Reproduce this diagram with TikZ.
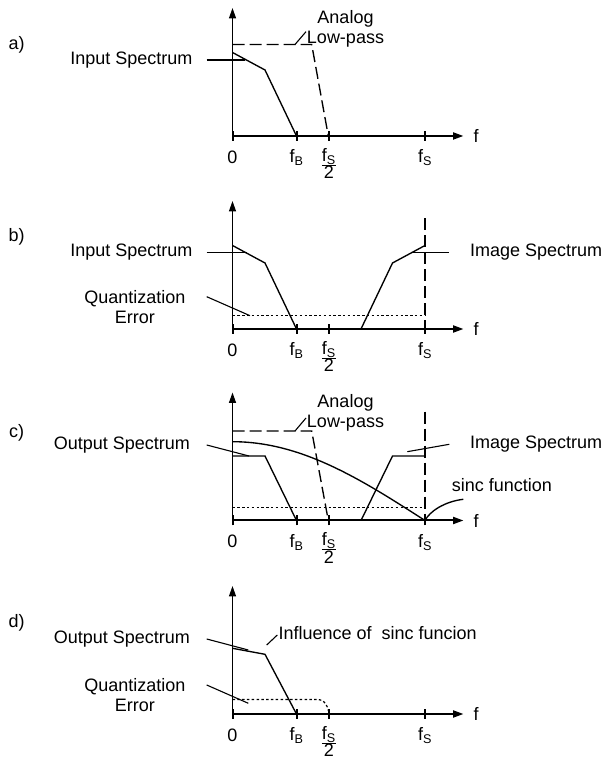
\documentclass[tikz,border=0pt]{standalone}
\usepackage{amsmath}
\usepackage{fontspec}
\setmainfont{Liberation Sans}
\usetikzlibrary{positioning, arrows.meta}

\begin{document}
\begin{tikzpicture}[x=1pt, y=1pt,
    lbl/.style={font=\fontsize{18}{20}\selectfont, inner sep=0pt},
    axisline/.style={line width=1.4pt, -{Triangle[length=10.5pt, width=7pt]}},
    tickmark/.style={line width=2pt},
    spectrum/.style={line width=1.35pt},
    lowpass/.style={line width=1.35pt, dash pattern=on 12pt off 5pt},
    noise/.style={line width=1.2pt, dash pattern=on 2.5pt off 2.3pt},
    leader/.style={line width=1.1pt}]

    \useasboundingbox (0,0) rectangle (602,759);

    % --- AXES, TICKS AND TICK LABELS OF ALL FOUR PANELS ---
    \foreach \p/\oy in {a/623, b/430, c/238.5, d/45} {
        \begin{scope}[shift={(232.5,\oy)}]
            \draw[axisline] (0,0) -- (0,128);
            \draw[axisline, line width=2pt] (0,0) -- (231,0);
            \foreach \tx in {0, 64, 96.25, 192.5}
                \draw[tickmark] (\tx,-5) -- (\tx,5);
            \node[lbl] (f\p) at (243.5,0) {f};
            \node[lbl, anchor=base] (zero\p) at (0,-27.5) {0};
            \node[lbl, anchor=base] (fb\p) at (64,-27) {$\text{f}_{\text{B}}$};
            \node[lbl, anchor=base] (fhalf\p) at (96.25,-33.5)
                {$\frac{\textstyle\text{f}_{\text{S}}}{\textstyle\text{2}}$};
            \node[lbl, anchor=base] (fs\p) at (192.5,-27) {$\text{f}_{\text{S}}$};
        \end{scope}
    }

    % --- PANEL A: INPUT SPECTRUM AND ANALOG LOW-PASS ---
    \begin{scope}[shift={(232.5,623)}]
        \node[lbl] (tagA) at (-215.8,91) {a)};
        \draw[spectrum] (0,83.5) -- (32.5,66) -- (64,0);
        \draw[lowpass] (0,91.5) -- (79.2,91.5) -- (95.8,0);
        % labels with their leaders
        \coordinate (inAs) at (-25.8,76);
        \coordinate (inAe) at (12,76);
        \node[lbl, left=14pt of inAs] (inA) {Input Spectrum};
        \draw[leader] (inAs) -- (inAe);
        \coordinate (lpAs) at (62.5,91.5);
        \coordinate (lpAe) at (73.5,104.3);
        \node[lbl, align=center] (lpA) at (113,107.5) {Analog\\Low-pass};
        \draw[leader] (lpAs) -- (lpAe);
    \end{scope}

    % --- PANEL B: SAMPLED INPUT WITH IMAGE AND QUANTIZATION ERROR ---
    \begin{scope}[shift={(232.5,430)}]
        \node[lbl] (tagB) at (-215.8,92.3) {b)};
        \draw[spectrum] (0,83.5) -- (32.5,66) -- (64,0);
        \draw[spectrum] (128.5,0) -- (160,66) -- (192.5,83.5);
        \draw[lowpass] (192.5,110.7) -- (192.5,0);
        \draw[noise] (0,13.3) -- (192.5,13.3);
        % labels with their leaders
        \coordinate (inBs) at (-25.8,76.5);
        \coordinate (inBe) at (14,76.5);
        \node[lbl, left=14pt of inBs] (inB) {Input Spectrum};
        \draw[leader] (inBs) -- (inBe);
        \coordinate (imBs) at (179.2,76.5);
        \coordinate (imBe) at (216.8,76.5);
        \node[lbl, right=20.5pt of imBe] (imB) {Image Spectrum};
        \draw[leader] (imBs) -- (imBe);
        \coordinate (qeBs) at (-25.8,32.3);
        \coordinate (qeBe) at (17.5,13.3);
        \node[lbl, align=center, left=21pt of qeBs, yshift=-10pt] (qeB) {Quantization\\Error};
        \draw[leader] (qeBs) -- (qeBe);
    \end{scope}

    % --- PANEL C: OUTPUT SPECTRUM, SINC WEIGHTING, LOW-PASS ---
    \begin{scope}[shift={(232.5,238.5)}]
        \node[lbl] (tagC) at (-215.8,87.5) {c)};
        \draw[lowpass] (0,89.5) -- (79.2,89.5) -- (95.8,0);
        \draw[spectrum] (0,64.5) -- (32.5,64.5) -- (64,0);
        \draw[spectrum] (128.5,0) -- (160,64.5) -- (192.5,64.5);
        \draw[spectrum] plot[domain=0:192.5, samples=60] (\x,{78.8*cos(\x/192.5*90)});
        \draw[spectrum] (192.5,0) .. controls (197,9) and (212,19) .. (230.8,21.2);
        \draw[lowpass] (192.5,108.8) -- (192.5,0);
        \draw[noise] (0,13.2) -- (192.5,13.2);
        % labels with their leaders
        \coordinate (lpCs) at (62.5,89.5);
        \coordinate (lpCe) at (73.5,102.5);
        \node[lbl, align=center] (lpC) at (113,108) {Analog\\Low-pass};
        \draw[leader] (lpCs) -- (lpCe);
        \coordinate (outCs) at (-25.8,75.5);
        \coordinate (outCe) at (16.5,64.5);
        \node[lbl, left=16.5pt of outCs] (outC) {Output Spectrum};
        \draw[leader] (outCs) -- (outCe);
        \coordinate (imCs) at (174.8,68.8);
        \coordinate (imCe) at (216.8,76.2);
        \node[lbl, right=20.5pt of imCe] (imC) {Image Spectrum};
        \draw[leader] (imCs) -- (imCe);
        \node[lbl, anchor=west] (sincC) at (219.2,35.5) {sinc function};
    \end{scope}

    % --- PANEL D: FILTERED OUTPUT ---
    \begin{scope}[shift={(232.5,45)}]
        \node[lbl] (tagD) at (-215.8,90.7) {d)};
        \draw[spectrum] (0,65.7) -- (32.5,59.7) -- (64,0);
        \draw[noise] (0,14.5) -- (86,14.5) .. controls (92,14.5) and (95,8) .. (96,3);
        % labels with their leaders
        \coordinate (outDs) at (-25.8,75);
        \coordinate (outDe) at (15.8,64);
        \node[lbl, left=16.5pt of outDs] (outD) {Output Spectrum};
        \draw[leader] (outDs) -- (outDe);
        \coordinate (infDs) at (34.2,69);
        \coordinate (infDe) at (44.8,79);
        \node[lbl, right=1pt of infDe, yshift=2pt] (infD) {Influence of\ \ sinc funcion};
        \draw[leader] (infDs) -- (infDe);
        \coordinate (qeDs) at (-25.8,29);
        \coordinate (qeDe) at (15.8,10.7);
        \node[lbl, align=center, left=21pt of qeDs, yshift=-10.5pt] (qeD) {Quantization\\Error};
        \draw[leader] (qeDs) -- (qeDe);
    \end{scope}

\end{tikzpicture}
\end{document}
